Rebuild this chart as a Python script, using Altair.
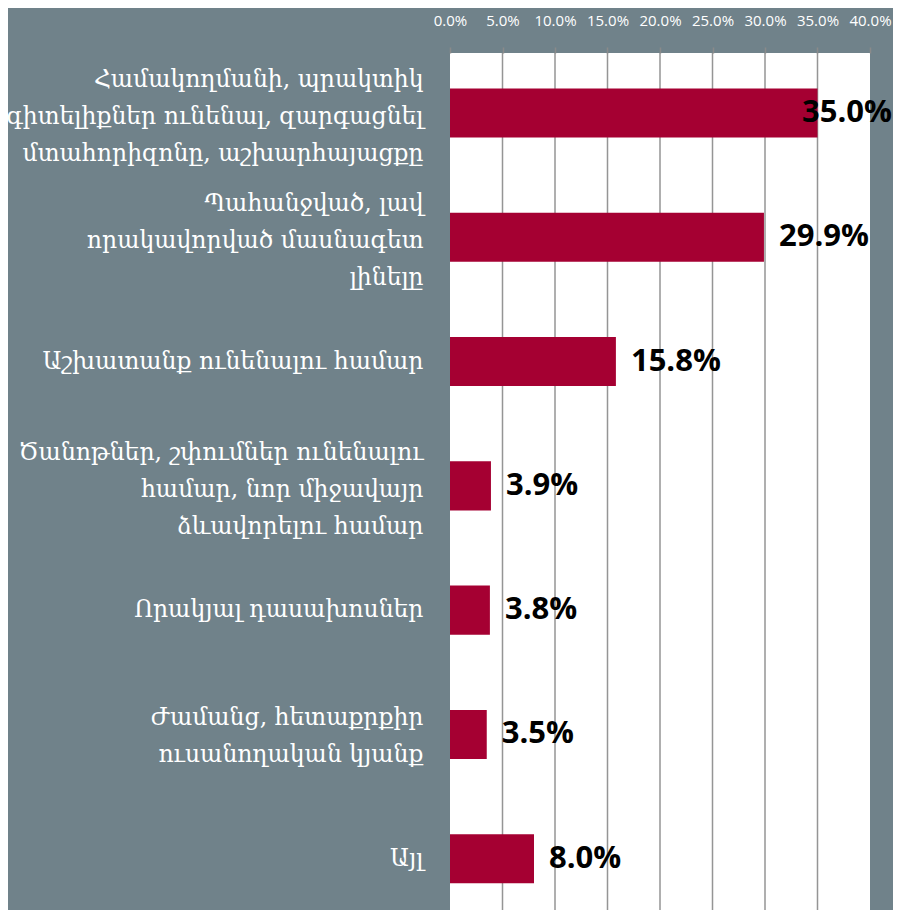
import altair as alt
import pandas as pd

categories = [
    "Համակողմանի, պրակտիկ|գիտելիքներ ունենալ, զարգացնել|մտահորիզոնը, աշխարհայացքը",
    "Պահանջված, լավ|որակավորված մասնագետ|լինելը",
    "Աշխատանք ունենալու համար",
    "Ծանոթներ, շփումներ ունենալու|համար, նոր միջավայր|ձևավորելու համար",
    "Որակյալ դասախոսներ",
    "Ժամանց, հետաքրքիր|ուսանողական կյանք",
    "Այլ",
]
values = [0.350, 0.299, 0.158, 0.039, 0.038, 0.035, 0.080]
tick_values = [0.0, 0.05, 0.10, 0.15, 0.20, 0.25, 0.30, 0.35, 0.40]
grid_values = [0.05, 0.10, 0.15, 0.20, 0.25, 0.30, 0.35]

df = pd.DataFrame({"cat": categories, "value": values})
grid_df = pd.DataFrame({"g": grid_values})

LINE_H = 37

x_scale = alt.Scale(domain=[0, 0.4], nice=False)
x_axis = alt.Axis(orient="top", values=tick_values, format=".1%")

grid = alt.Chart(grid_df).mark_rule(color="#959595", strokeWidth=1.5).encode(
    x=alt.X("g:Q", scale=x_scale, title=None, axis=x_axis),
)

y_enc = alt.Y(
    "cat:N",
    sort=categories,
    title=None,
    scale=alt.Scale(paddingInner=0.605, paddingOuter=0.25, align=0.57),
    axis=alt.Axis(
        labelExpr="split(datum.label, '|')",
        labelOffset={
            "condition": [
                {"test": "length(split(datum.label, '|')) == 3", "value": -LINE_H + 4},
                {"test": "length(split(datum.label, '|')) == 2", "value": -LINE_H / 2 + 2},
            ],
            "value": 0,
        },
    ),
)

bars = alt.Chart(df).mark_bar(color="#A50032").encode(
    y=y_enc,
    x=alt.X("value:Q", title=None, scale=x_scale, axis=x_axis),
)

labels = (
    alt.Chart(df)
    .transform_calculate(xpos="min(datum.value, 0.321)")
    .mark_text(
        align="left",
        baseline="middle",
        dx=15,
        font="Open Sans",
        fontSize=31,
        fontWeight="bold",
        color="black",
    )
    .encode(
        y=alt.Y("cat:N", sort=categories),
        x=alt.X("xpos:Q", title=None, axis=x_axis),
        text=alt.Text("value:Q", format=".1%"),
    )
)

chart = (
    alt.layer(grid, bars, labels)
    .properties(
        width=420,
        height=857,
        background="#70828a",
        padding={"left": 442, "top": 45, "right": 23, "bottom": 0},
        autosize=alt.AutoSizeParams(type="none"),
    )
    .configure_view(fill="white", stroke=None)
    .configure_axisX(
        labelColor="white",
        labelFont="Open Sans",
        labelFontSize=15,
        labelPadding=19,
        labelOverlap=False,
        labelFlush=False,
        labelBound=False,
        tickColor="#8a8a8a",
        tickSize=6,
        tickWidth=1.5,
        domain=False,
        grid=False,
    )
    .configure_axisY(
        labelColor="white",
        labelFont="DejaVu Serif",
        labelFontSize=23.5,
        labelLineHeight=LINE_H,
        labelPadding=27,
        labelLimit=0,
        ticks=False,
        domain=False,
        grid=False,
    )
)

chart.save("out.html", embed_options={"renderer": "svg", "actions": False})
